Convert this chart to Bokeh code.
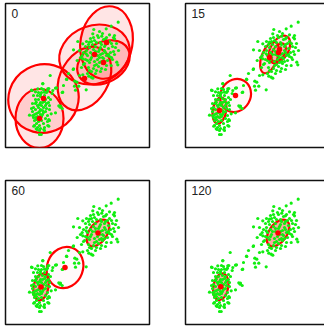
from bokeh.plotting import figure
from bokeh.layouts import column, row
from bokeh.models import Range1d, Label, ColumnDataSource, GlobalInlineStyleSheet
from bokeh.embed import file_html
from bokeh.resources import INLINE

# ---- data (frame units 0..144, y up) ----
upper_pts = [
    (112.7,125.3),(105.7,121.3),(100.7,118.7),(88.3,118),(94,116),(87.3,113.7),(104,112.7),(109,112),
    (96.3,111.3),(100,108.7),(109,108.7),(72.3,106),(77.3,103.7),(84,105.3),(68,97.7),(74,97),(76.7,92),
    (80.7,93.7),(71.7,87),(77.3,88.7),(111.3,85.3),(112.3,82.7),(105.7,82),(68,78.7),(74,72),(77.3,72.7),
    (83.3,71.3),(85.7,70.3),(87.3,69.3),(71.3,65.3),(73.3,61.3),(69,61.3),(80.7,57.7),
    (85,95),(88,98),(90,93),(93,96),(95,100),(97,94),(92,88),(89,86),(94,90),(99,97),(101,92),(96,86),
    (86,90),(84,85),(91,83),(98,89),(103,99),(100,103),(95,105),(90,101),(87,103),(82,92),(80,88),(83,80),
    (88,79),(93,81),(97,84),(102,87),(105,95),(107,101),(104,106),(98,108),(93,110),(89,107),(84,100),
    (81,97),(79,84),(86,76),(91,77),(96,79),(101,82),(106,90),(108,96),(103,93),(99,101),(94,98),(90,96),
    (87,93),(85,88),(92,92),(95,93),(97,90),(100,95),(102,104),(96,103),(91,105),(88,110),(86,106),(83,103),
    (80,101),(78,95),(82,87),(89,82),(94,85),(99,86),(104,91),(107,88),(110,100),(106,104),(101,110),
    (97,114),(92,112),(85,109),(81,106),(78,83),(84,77),(90,74),(95,76),(100,78),(109,93),(111,104),
    (108,110),(113,97),(75,90),(76,80),(82,74),
]
lower_pts = [
    (44.7,72),(37.3,63.7),(32.3,58.7),(42.3,58.7),(50,59.3),(26.7,57),(28,52),(39,55.3),(47.3,57),
    (30.7,45.3),(44,42),(45.7,33.7),(27.3,32),(29,22),(30.7,18.7),(35.7,13),(42.3,22),(44,27),(39,17),
    (34,17),(37.3,64),(51,59.7),(43.3,59),(36,59),(26,57.3),(30,55.7),(42,56.3),(35,53),(46.7,54),
    (24,32.3),(50,34.7),(43.3,28),(43.3,21.3),(28.3,21.3),(31.7,18),(38.3,18),(34,13),
    (33,35),(35,38),(37,33),(34,30),(31,28),(36,27),(38,40),(40,36),(32,42),(35,45),(39,46),(37,49),
    (33,48),(30,38),(29,33),(31,24),(34,22),(38,24),(40,29),(42,32),(41,39),(36,42),(33,40),(30,44),
    (28,40),(27,36),(29,27),(33,26),(36,31),(38,35),(41,44),(39,52),(35,51),(32,52),(36,55),(40,48),
    (43,45),(44,38),(42,26),(39,20),(35,19),(32,20),(30,30),(28,30),(31,34),(34,36),(37,37),(35,33),
    (32,31),(40,42),(37,45),(34,43),(30,48),(33,55),(38,58),(27,44),(26,39),(43,50),(45,48),(41,55),
]
bridge_pts = [
    (67.7,78),(61,68.3),(69.3,66.3),(70,57.3),(56.7,55),(53.3,41.7),(55,41.3),(56.7,39),(57.3,55.3),
    (54.7,40.3),(61.3,68),(63,74),(58,62),
]

labels = ["0", "15", "60", "120"]

# per panel: ellipse centre x, centre y, width, height, angle(rad), fill alpha
p0_cx = [101, 89, 98, 79, 38, 34]
p0_cy = [105, 93, 85, 69, 49, 29]
p0_w = [73, 72, 56, 68, 71, 59]
p0_h = [52, 58, 40, 48, 68, 48]
p0_a = [1.4, 0.35, 0.52, 1.05, 0.5, 1.57]
p0_f = [0.1, 0.1, 0.1, 0.08, 0.1, 0.1]

p1_cx = [34, 50, 84, 94, 93]
p1_cy = [37, 52, 90, 98, 95]
p1_w = [26.4, 34, 33, 30, 20]
p1_h = [13.6, 30, 16, 18, 12]
p1_a = [1.4, 1.05, 1.22, 1.05, 1.0]
p1_f = [0.3, 0.03, 0.12, 0.12, 0.12]

p2_cx = [35.5, 59.5, 92.5]
p2_cy = [37.5, 57, 91.5]
p2_w = [27, 42, 30]
p2_h = [15, 36, 18]
p2_a = [1.4, 1.22, 0.96]
p2_f = [0.35, 0.02, 0.3]

p3_cx = [92.5, 35.3]
p3_cy = [91.5, 37.7]
p3_w = [30, 27]
p3_h = [18, 15]
p3_a = [0.96, 1.4]
p3_f = [0.35, 0.35]

all_pts = upper_pts + lower_pts + bridge_pts
px = [q[0] for q in all_pts]
py = [q[1] for q in all_pts]


def panel(label, cx, cy, w, h, a, f, mb_left, mb_top, mb_right, mb_bottom):
    p = figure(width=144 + mb_left + mb_right, height=144 + mb_top + mb_bottom,
               x_range=Range1d(0, 144), y_range=Range1d(0, 144),
               x_axis_type=None, y_axis_type=None, toolbar_location=None,
               output_backend="svg", min_border_left=mb_left, min_border_top=mb_top,
               min_border_right=mb_right, min_border_bottom=mb_bottom)
    p.grid.visible = False
    p.outline_line_color = "#111111"
    p.outline_line_width = 1.5
    p.background_fill_color = "white"
    p.border_fill_color = "white"
    src = ColumnDataSource(dict(x=cx, y=cy, w=w, h=h, a=a, f=f))
    p.ellipse(x="x", y="y", width="w", height="h", angle="a", source=src,
              fill_color="#ff0000", fill_alpha="f", line_color="#ff0000", line_width=2.2)
    p.scatter(px, py, size=3.2, color="#11ee11", line_width=0)
    p.scatter(x="x", y="y", source=src, size=5.5, color="#ff0000", line_width=0)
    p.add_layout(Label(x=6, y=139, text=label, text_font="Liberation Sans",
                       text_font_size="12px", text_baseline="top", text_color="#222222"))
    return p


f0 = panel(labels[0], p0_cx, p0_cy, p0_w, p0_h, p0_a, p0_f, 2, 2, 34, 31)
f1 = panel(labels[1], p1_cx, p1_cy, p1_w, p1_h, p1_a, p1_f, 2, 2, 0, 31)
f2 = panel(labels[2], p2_cx, p2_cy, p2_w, p2_h, p2_a, p2_f, 2, 2, 34, 2)
f3 = panel(labels[3], p3_cx, p3_cy, p3_w, p3_h, p3_a, p3_f, 2, 2, 0, 2)

layout = column(row(f0, f1), row(f2, f3), margin=(1, 0, 0, 3),
                stylesheets=[GlobalInlineStyleSheet(css="html, body { overflow: hidden; }")])

open("out.html", "w").write(file_html(layout, INLINE))
